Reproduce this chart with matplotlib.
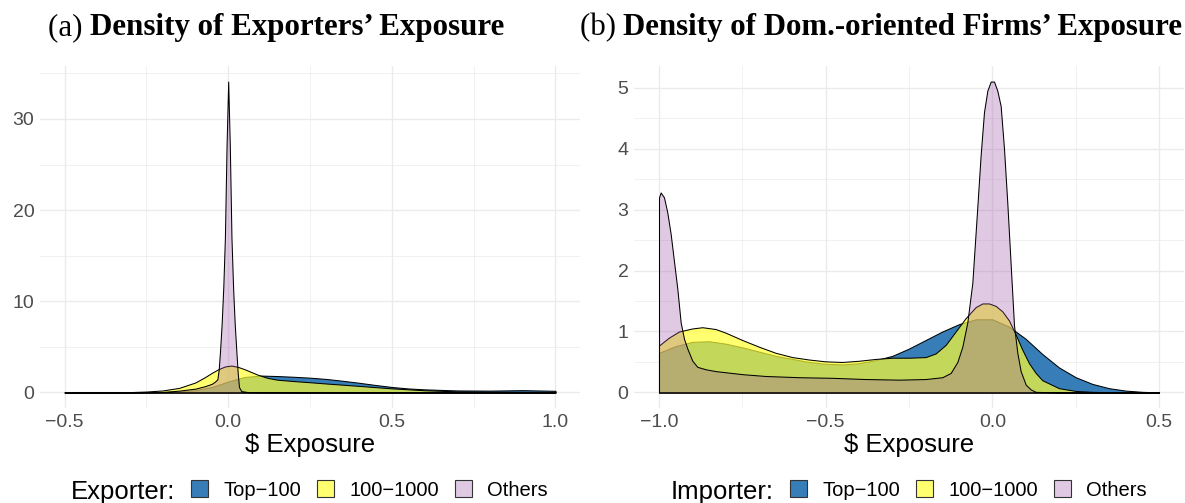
import numpy as np
import matplotlib.pyplot as plt
from matplotlib.colors import to_rgba
from matplotlib.patches import Patch
from matplotlib.ticker import AutoMinorLocator

plt.rcParams['font.family'] = ['Liberation Sans', 'DejaVu Sans']

groups = ["Top\u2212100", "100\u22121000", "Others"]
colors = ["#377EB8", "#FFFF33", "#984EA3"]
alphas = [1.0, 0.7, 0.3]

# panel (a): exporters
exp_top_x = [-0.5, -0.3, -0.2, -0.15, -0.1, -0.05, 0.0, 0.05, 0.1, 0.15, 0.2, 0.25, 0.3,
             0.35, 0.4, 0.45, 0.5, 0.55, 0.6, 0.7, 0.8, 0.9, 1.0]
exp_top_y = [0.0, 0.02, 0.06, 0.12, 0.25, 0.6, 1.2, 1.7, 1.85, 1.8, 1.72, 1.62, 1.48,
             1.28, 1.06, 0.82, 0.6, 0.44, 0.34, 0.22, 0.2, 0.25, 0.18]

exp_mid_x = [-0.5, -0.3, -0.25, -0.2, -0.15, -0.1, -0.07, -0.05, -0.03, -0.01, 0.01, 0.03,
             0.05, 0.07, 0.09, 0.12, 0.15, 0.2, 0.25, 0.3, 0.4, 0.5, 0.6, 0.7, 0.8, 0.9, 1.0]
exp_mid_y = [0.0, 0.04, 0.1, 0.22, 0.5, 1.1, 1.7, 2.15, 2.55, 2.85, 2.95, 2.8,
             2.55, 2.25, 1.95, 1.6, 1.4, 1.25, 1.12, 0.98, 0.72, 0.45, 0.24, 0.12, 0.08, 0.06, 0.05]

exp_oth_x = [-0.5, -0.3, -0.2, -0.15, -0.1, -0.07, -0.05, -0.04, -0.033, -0.029, -0.025,
             -0.02, -0.015, -0.01, -0.005, 0.0, 0.005, 0.01, 0.015, 0.02, 0.025, 0.029,
             0.033, 0.04, 0.06, 0.1, 0.3, 0.6, 1.0]
exp_oth_y = [0.0, 0.01, 0.05, 0.2, 0.42, 0.7, 0.95, 1.2, 1.45, 2.5, 4.5,
             7.5, 11.5, 17.0, 27.0, 34.1, 27.0, 17.0, 11.5, 7.5, 4.5, 2.2,
             0.6, 0.15, 0.04, 0.02, 0.01, 0.01, 0.0]

# panel (b): domestic-oriented firms (importers)
imp_top_x = [-1.0, -0.95, -0.9, -0.85, -0.8, -0.75, -0.7, -0.65, -0.6, -0.55, -0.5, -0.45,
             -0.4, -0.35, -0.3, -0.25, -0.2, -0.15, -0.1, -0.05, 0.0, 0.05, 0.1, 0.15,
             0.2, 0.25, 0.3, 0.35, 0.4, 0.45, 0.5]
imp_top_y = [0.65, 0.76, 0.83, 0.84, 0.8, 0.74, 0.67, 0.6, 0.55, 0.5, 0.47, 0.46,
             0.48, 0.53, 0.6, 0.72, 0.86, 1.0, 1.12, 1.2, 1.2, 1.08, 0.88, 0.63,
             0.41, 0.25, 0.14, 0.07, 0.03, 0.01, 0.0]

imp_mid_x = [-1.0, -0.97, -0.94, -0.9, -0.87, -0.83, -0.8, -0.75, -0.7, -0.65, -0.6, -0.55,
             -0.5, -0.45, -0.4, -0.35, -0.3, -0.25, -0.2, -0.17, -0.14, -0.11, -0.08,
             -0.05, -0.03, -0.01, 0.01, 0.03, 0.05, 0.07, 0.09, 0.11, 0.13, 0.15, 0.2,
             0.25, 0.3, 0.4, 0.5]
imp_mid_y = [0.77, 0.9, 1.0, 1.05, 1.07, 1.04, 0.98, 0.86, 0.75, 0.65, 0.58, 0.54,
             0.51, 0.5, 0.52, 0.55, 0.57, 0.57, 0.58, 0.64, 0.78, 1.0, 1.22,
             1.4, 1.46, 1.46, 1.42, 1.33, 1.18, 0.95, 0.7, 0.48, 0.32, 0.2, 0.07,
             0.025, 0.01, 0.0, 0.0]

imp_oth_x = [-1.0, -0.995, -0.985, -0.975, -0.965, -0.955, -0.945, -0.935, -0.925, -0.915,
             -0.9, -0.885, -0.86, -0.83, -0.75, -0.68, -0.58, -0.48, -0.38, -0.28, -0.2,
             -0.15, -0.125, -0.105, -0.09, -0.075, -0.06, -0.045, -0.035, -0.025, -0.015,
             -0.005, 0.005, 0.015, 0.025, 0.035, 0.045, 0.055, 0.065, 0.075, 0.085, 0.1,
             0.115, 0.13, 0.2, 0.5]
imp_oth_y = [3.2, 3.28, 3.2, 2.95, 2.6, 2.15, 1.7, 1.15, 0.88, 0.72,
             0.52, 0.42, 0.38, 0.35, 0.3, 0.27, 0.25, 0.24, 0.22, 0.21, 0.22,
             0.25, 0.32, 0.5, 0.75, 1.15, 1.8, 3.05, 3.9, 4.6, 4.95,
             5.1, 5.1, 4.95, 4.7, 4.0, 3.1, 2.1, 1.1, 0.65, 0.35, 0.13,
             0.05, 0.01, 0.0, 0.0]

exp_xticks = [-0.5, 0.0, 0.5, 1.0]
exp_yticks = [0, 10, 20, 30]
imp_xticks = [-1.0, -0.5, 0.0, 0.5]
imp_yticks = [0, 1, 2, 3, 4, 5]

W, H = 1185, 503
fig = plt.figure(figsize=(W / 100, H / 100), dpi=100)
ax1 = fig.add_axes([40 / W, 95 / H, 540 / W, 342 / H])
ax2 = fig.add_axes([634 / W, 95 / H, 550 / W, 342 / H])


def draw_panel(ax, curves, xticks, yticks):
    for (xs, ys), c, a in zip(curves, colors, alphas):
        ax.fill_between(xs, ys, 0, facecolor=to_rgba(c, a), edgecolor="black", linewidth=0.75)
    ax.margins(x=0.05, y=0.05)
    ax.set_xticks(xticks)
    ax.set_yticks(yticks)
    ax.xaxis.set_minor_locator(AutoMinorLocator(2))
    ax.yaxis.set_minor_locator(AutoMinorLocator(2))
    ax.grid(which="major", color="#EBEBEB", linewidth=1.0)
    ax.grid(which="minor", color="#EBEBEB", linewidth=0.5)
    ax.set_axisbelow(True)
    for s in ax.spines.values():
        s.set_visible(False)
    ax.tick_params(which="both", length=0, labelsize=14, labelcolor="#4D4D4D")
    ax.tick_params(axis="x", pad=4)
    ax.tick_params(axis="y", pad=4)
    ax.set_xlabel(r"\$ Exposure", fontsize=18.5, labelpad=2)
    ax.set_ylabel("")


draw_panel(ax1, [(exp_top_x, exp_top_y), (exp_mid_x, exp_mid_y), (exp_oth_x, exp_oth_y)],
           exp_xticks, exp_yticks)
draw_panel(ax2, [(imp_top_x, imp_top_y), (imp_mid_x, imp_mid_y), (imp_oth_x, imp_oth_y)],
           imp_xticks, imp_yticks)

# legends below each panel
handles = [Patch(facecolor=to_rgba(c, a), edgecolor="#333333", linewidth=0.8)
           for c, a in zip(colors, alphas)]
for title, tx, kx in [("Exporter:", 71, 191), ("Importer:", 671, 790)]:
    fig.text(tx / W, 11 / H, title, fontsize=18.5, va="center", ha="left")
    fig.legend(handles, groups, loc="center left", bbox_to_anchor=(kx / W, 13 / H),
               ncol=3, frameon=False, fontsize=14.5, handlelength=0.85, handleheight=0.85,
               handletextpad=0.75, columnspacing=0.8, borderpad=0, borderaxespad=0)

# subfigure captions: regular "(a)" + bold text, centred as one line
renderer = fig.canvas.get_renderer()
for lab, txt, left, right in [("(a)", "Density of Exporters\u2019 Exposure", 48, 505),
                              ("(b)", "Density of Dom.-oriented Firms\u2019 Exposure", 580, 1182)]:
    t1 = fig.text(0, 1 - 28 / H, lab + " ", family="Liberation Serif", fontsize=22,
                  ha="left", va="center")
    t2 = fig.text(0, 1 - 28 / H, txt, family="Liberation Serif", fontsize=22,
                  fontweight="bold", ha="left", va="center")
    w1 = t1.get_window_extent(renderer).width
    w2 = t2.get_window_extent(renderer).width
    scale = (right - left) / (w1 + w2)
    fs = 22 * min(scale, 1.08)
    t1.set_fontsize(fs)
    t2.set_fontsize(fs)
    w1 = t1.get_window_extent(renderer).width
    w2 = t2.get_window_extent(renderer).width
    x0 = (left + right) / 2 - (w1 + w2) / 2
    t1.set_x(x0 / W)
    t2.set_x((x0 + w1) / W)

fig.savefig("out.png", dpi=100)
